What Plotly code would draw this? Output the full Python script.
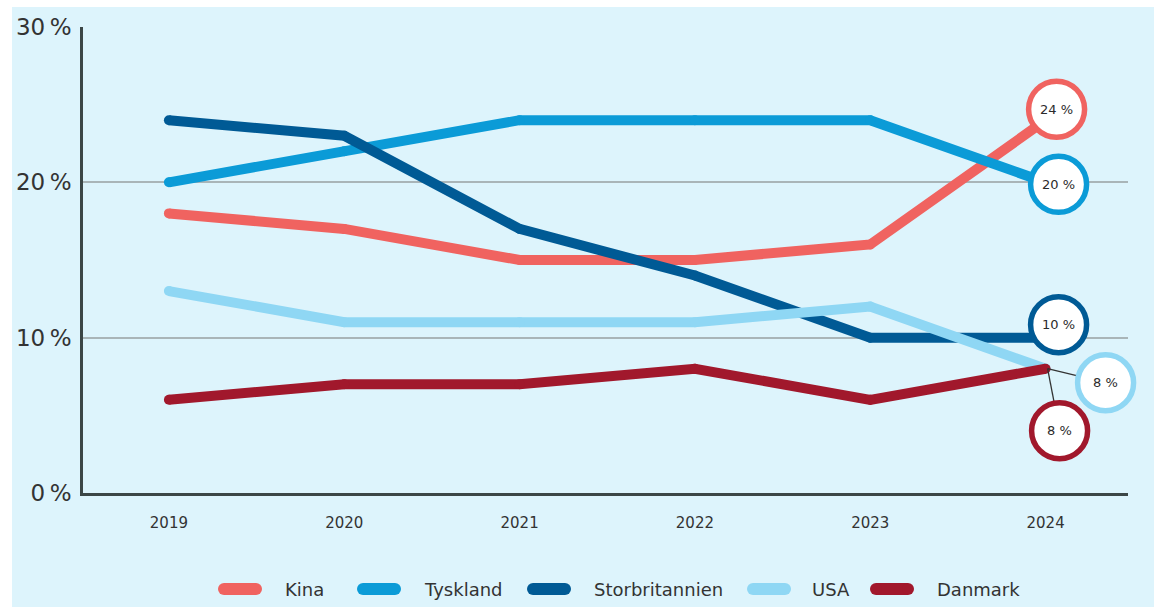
import plotly.graph_objects as go

years = [2019, 2020, 2021, 2022, 2023, 2024]
kina = [18, 17, 15, 15, 16, 24]
tyskland = [20, 22, 24, 24, 24, 20]
storbritannien = [24, 23, 17, 14, 10, 10]
usa = [13, 11, 11, 11, 12, 8]
danmark = [6, 7, 7, 8, 6, 8]

series_names = ["Kina", "Tyskland", "Storbritannien", "USA", "Danmark"]
series_values = [kina, tyskland, storbritannien, usa, danmark]
end_labels = ["24 %", "20 %", "10 %", "8 %", "8 %"]

y_tick_vals = [0, 10, 20, 30]
y_tick_labels = ["0\u2009%", "10\u2009%", "20\u2009%", "30\u2009%"]
x_tick_labels = ["2019", "2020", "2021", "2022", "2023", "2024"]

colors = ["#f06360", "#0b9bd7", "#005a95", "#8fd7f4", "#a1182c"]
# pixel offsets of the end-label circles from the last data point (dx right, dy up)
circle_offsets = [(11, 11), (13, -2), (13, 13), (60, -14), (14, -62)]
has_connector = [False, False, False, True, True]
# legend layout (page pixels): pill left edge, text left edge
legend_pill_x = [218, 357, 527, 747, 870]
legend_text_x = [283, 422, 592, 810, 935]
LEGEND_Y = 589

BG = "#ddf4fc"
FONT = "DejaVu Sans"

X_RANGE = [2018.51, 2024.47]
Y_RANGE = [0, 30]

# plot area in page pixels
PL, PR, PT, PB = 83, 1128, 27, 493
PW, PH = PR - PL, PB - PT

fig = go.Figure()
for name, vals, col in zip(series_names, series_values, colors):
    fig.add_trace(go.Scatter(
        x=years, y=vals, name=name, mode="lines+markers",
        line=dict(color=col, width=10),
        marker=dict(color=col, size=10, line=dict(width=0)),
        showlegend=False,
        hoverinfo="x+y+name",
    ))

shapes = []
# white margins (left and top strips)
shapes.append(dict(type="rect", xref="paper", yref="paper",
                   x0=-PL / PW, x1=(12 - PL) / PW, y0=-(607 - PB) / PH, y1=PB / PH,
                   fillcolor="white", line=dict(width=0), layer="below"))
shapes.append(dict(type="rect", xref="paper", yref="paper",
                   x0=-PL / PW, x1=(1154 - PL) / PW, y0=(PB - 7) / PH, y1=PB / PH,
                   fillcolor="white", line=dict(width=0), layer="below"))

# the end year expressed in paper units so the end-label circles are not clipped
x_end_paper = (years[-1] - X_RANGE[0]) / (X_RANGE[1] - X_RANGE[0])

R = 28
annotations = []
for vals, col, lab, (dx, dy), conn in zip(series_values, colors, end_labels,
                                            circle_offsets, has_connector):
    if conn:
        shapes.append(dict(type="line", xref="paper", yref="y",
                           xsizemode="pixel", ysizemode="pixel",
                           xanchor=x_end_paper, yanchor=vals[-1],
                           x0=2, y0=0, x1=dx, y1=dy,
                           line=dict(color="#333333", width=1.3), layer="above"))
for vals, col, lab, (dx, dy), conn in zip(series_values, colors, end_labels,
                                            circle_offsets, has_connector):
    shapes.append(dict(type="circle", xref="paper", yref="y",
                       xsizemode="pixel", ysizemode="pixel",
                       xanchor=x_end_paper, yanchor=vals[-1],
                       x0=dx - R, x1=dx + R, y0=dy - R, y1=dy + R,
                       fillcolor="white", line=dict(color=col, width=5.5),
                       layer="above"))
    annotations.append(dict(x=years[-1], y=vals[-1], xref="x", yref="y", text=lab,
                            showarrow=False, xshift=dx, yshift=dy,
                            font=dict(family=FONT, size=13, color="#2b2b2b")))

# custom legend: rounded pills + labels
PILL_W, PILL_H = 44, 12
r = PILL_H / 2
ly = PB - LEGEND_Y
for name, col, px, tx in zip(series_names, colors, legend_pill_x, legend_text_x):
    x0 = px - PL
    x1 = x0 + PILL_W
    common = dict(xref="paper", yref="paper", xsizemode="pixel", ysizemode="pixel",
                  xanchor=0, yanchor=0, fillcolor=col, line=dict(width=0),
                  layer="above")
    shapes.append(dict(type="rect", x0=x0 + r, x1=x1 - r, y0=ly - r, y1=ly + r, **common))
    shapes.append(dict(type="circle", x0=x0, x1=x0 + 2 * r, y0=ly - r, y1=ly + r, **common))
    shapes.append(dict(type="circle", x0=x1 - 2 * r, x1=x1, y0=ly - r, y1=ly + r, **common))
    annotations.append(dict(x=(tx - PL) / PW, y=ly / PH, xref="paper", yref="paper",
                            xanchor="left", yanchor="middle", showarrow=False,
                            text=name,
                            font=dict(family=FONT, size=18, color="#333333")))

fig.update_layout(
    width=1154, height=607,
    margin=dict(l=PL, r=1154 - PR, t=PT, b=607 - PB),
    paper_bgcolor=BG, plot_bgcolor=BG,
    font=dict(family=FONT, color="#333333"),
    shapes=shapes, annotations=annotations,
    showlegend=False,
    xaxis=dict(range=X_RANGE, tickvals=years, ticktext=x_tick_labels,
               showgrid=False, zeroline=False, showline=True,
               linecolor="#3b4646", linewidth=2.5,
               ticks="outside", ticklen=0, ticklabelstandoff=14,
               tickfont=dict(family=FONT, size=15, color="#333333")),
    yaxis=dict(range=Y_RANGE, tickvals=y_tick_vals, ticktext=y_tick_labels,
               showgrid=True, gridcolor="#a9b5b8", gridwidth=1.5,
               zeroline=False, showline=True,
               linecolor="#3b4646", linewidth=2.5,
               ticks="outside", ticklen=0, ticklabelstandoff=4,
               tickfont=dict(family=FONT, size=23, color="#333333")),
)

fig.write_html("out.html", config={"displayModeBar": False},
               post_script="document.body.style.margin='0';document.body.style.overflow='hidden';")
